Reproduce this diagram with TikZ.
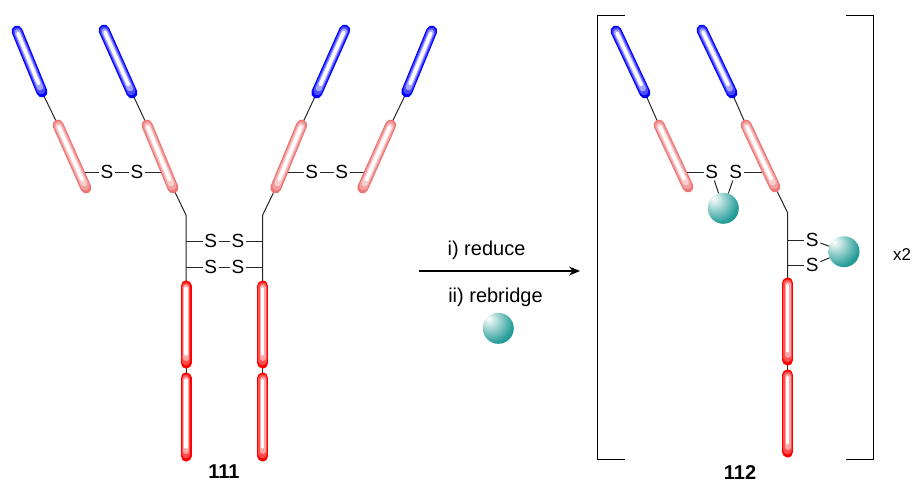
\documentclass[tikz,border=0pt]{standalone}
\usepackage{fontspec}
\setmainfont{Liberation Sans}
\usetikzlibrary{arrows.meta}

\definecolor{vdom}{RGB}{0,0,255}
\definecolor{cdom}{RGB}{236,118,118}
\definecolor{fdom}{RGB}{255,0,0}
\definecolor{beadcol}{RGB}{0,140,135}

% glossy bead, lit from the upper left
\pgfdeclareradialshading{beadshade}{\pgfpoint{-16bp}{16bp}}{%
  color(0bp)=(white); color(10bp)=(beadcol!25!white);
  color(34bp)=(beadcol!85!white); color(62bp)=(beadcol!85!black);
  color(100bp)=(beadcol!85!black)}

% one domain of a chain: a shaded rod with round ends
\newcommand{\domain}[3]{%
  \draw[line width=11, line cap=round, #1] (#2) -- (#3);
  \draw[line width=8.5, line cap=round, #1!70!white, shorten <=0.5, shorten >=2] (#2) -- (#3);
  \draw[line width=6, line cap=round, #1!35!white, shorten <=1.5, shorten >=5] (#2) -- (#3);
  \draw[line width=3.5, line cap=round, white, shorten <=2.5, shorten >=9] (#2) -- (#3);
}

\begin{document}
\begin{tikzpicture}[x=1pt, y=-1pt]

  \tikzstyle{bond} = [line width=1, black!85]
  \tikzstyle{atom} = [inner sep=1.5, font=\fontsize{19}{22}\selectfont]
  \tikzstyle{bead} = [circle, minimum size=31, inner sep=0, shading=beadshade]
  \tikzstyle{reagent} = [font=\fontsize{20}{24}\selectfont]
  \tikzstyle{cmpd} = [font=\fontsize{20}{24}\selectfont\bfseries]

  \useasboundingbox (0,0) rectangle (913,483);

  % antibody 111
  \coordinate (aV1t) at (17,31);    \coordinate (aV1b) at (42,92);
  \coordinate (aC1t) at (58,125);   \coordinate (aC1b) at (86,188);
  \coordinate (aV2t) at (104,30);   \coordinate (aV2b) at (132,93);
  \coordinate (aC2t) at (147,125);  \coordinate (aC2b) at (173,188);
  \coordinate (aV3t) at (344.7,30); \coordinate (aV3b) at (316.7,93);
  \coordinate (aC3t) at (301.7,125);\coordinate (aC3b) at (275.7,188);
  \coordinate (aV4t) at (431.7,31); \coordinate (aV4b) at (406.7,92);
  \coordinate (aC4t) at (390.7,125);\coordinate (aC4b) at (362.7,188);
  \coordinate (aH1) at (186,215);   \coordinate (aH2) at (262.7,215);
  \coordinate (aF1t) at (186,286);  \coordinate (aF1b) at (186,363);
  \coordinate (aF2t) at (186,378);  \coordinate (aF2b) at (186,456);
  \coordinate (aG1t) at (262.7,286);\coordinate (aG1b) at (262.7,363);
  \coordinate (aG2t) at (262.7,378);\coordinate (aG2b) at (262.7,456);
  \coordinate (aL1) at (79,172);    \coordinate (aL2) at (166.4,172);
  \coordinate (aL3) at (282.3,172); \coordinate (aL4) at (369.8,172);

  \node[atom] (aS1) at (107,172) {S};
  \node[atom] (aS2) at (137,172) {S};
  \node[atom] (aS3) at (311.7,172) {S};
  \node[atom] (aS4) at (341.7,172) {S};
  \node[atom] (aS5) at (210.7,241) {S};
  \node[atom] (aS6) at (238,241) {S};
  \node[atom] (aS7) at (210.7,267) {S};
  \node[atom] (aS8) at (238,267) {S};

  \draw[bond] (aV1b) -- (aC1t);
  \draw[bond] (aV2b) -- (aC2t);
  \draw[bond] (aV3b) -- (aC3t);
  \draw[bond] (aV4b) -- (aC4t);
  \draw[bond] (aC2b) -- (aH1) -- (aF1t);
  \draw[bond] (aC3b) -- (aH2) -- (aG1t);
  \draw[bond] (aF1b) -- (aF2t);
  \draw[bond] (aG1b) -- (aG2t);
  \draw[bond] (aL1) -- (aS1) -- (aS2) -- (aL2);
  \draw[bond] (aL3) -- (aS3) -- (aS4) -- (aL4);
  \draw[bond] (aH1 |- aS5) -- (aS5) -- (aS6) -- (aH2 |- aS6);
  \draw[bond] (aH1 |- aS7) -- (aS7) -- (aS8) -- (aH2 |- aS8);

  \domain{vdom}{aV1t}{aV1b}
  \domain{vdom}{aV2t}{aV2b}
  \domain{vdom}{aV3t}{aV3b}
  \domain{vdom}{aV4t}{aV4b}
  \domain{cdom}{aC1t}{aC1b}
  \domain{cdom}{aC2t}{aC2b}
  \domain{cdom}{aC3t}{aC3b}
  \domain{cdom}{aC4t}{aC4b}
  \domain{fdom}{aF1t}{aF1b}
  \domain{fdom}{aF2t}{aF2b}
  \domain{fdom}{aG1t}{aG1b}
  \domain{fdom}{aG2t}{aG2b}

  \node[cmpd] (n111) at (224,472) {111};

  % reaction arrow
  \coordinate (r0) at (419,271);
  \coordinate (r1) at (580,271);
  \draw[line width=1.4, -{Stealth[length=11, width=9]}] (r0) -- (r1);
  \node[reagent] (step1) at (486.5,250) {i) reduce};
  \node[reagent] (step2) at (495.5,297) {ii) rebridge};
  \node[bead] (bead0) at (498.3,328.3) {};

  % rebridged half antibody 112
  \coordinate (bV1t) at (616,31);   \coordinate (bV1b) at (645,93);
  \coordinate (bC1t) at (659,125);  \coordinate (bC1b) at (688,187);
  \coordinate (bV2t) at (702,30);   \coordinate (bV2b) at (732,93);
  \coordinate (bC2t) at (746,125);  \coordinate (bC2b) at (775,187);
  \coordinate (bH1) at (787.7,213);
  \coordinate (bF1t) at (787.7,283);\coordinate (bF1b) at (787.7,360);
  \coordinate (bF2t) at (787.7,375);\coordinate (bF2b) at (787.7,452);
  \coordinate (bL1) at (681,172);   \coordinate (bL2) at (768,172);

  \node[atom] (bS1) at (711.7,172) {S};
  \node[atom] (bS2) at (735.7,172) {S};
  \node[atom] (bS3) at (812.3,240) {S};
  \node[atom] (bS4) at (812.3,265) {S};
  \node[bead] (bead1) at (723.3,208.3) {};
  \node[bead] (bead2) at (844,251.7) {};

  \draw[bond] (bV1b) -- (bC1t);
  \draw[bond] (bV2b) -- (bC2t);
  \draw[bond] (bC2b) -- (bH1) -- (bF1t);
  \draw[bond] (bF1b) -- (bF2t);
  \draw[bond] (bL1) -- (bS1);
  \draw[bond] (bS2) -- (bL2);
  \draw[bond] (bH1 |- bS3) -- (bS3);
  \draw[bond] (bH1 |- bS4) -- (bS4);
  \draw[bond] (bS1) -- (bead1);
  \draw[bond] (bS2) -- (bead1);
  \draw[bond] (bS3) -- (bead2);
  \draw[bond] (bS4) -- (bead2);

  \domain{vdom}{bV1t}{bV1b}
  \domain{vdom}{bV2t}{bV2b}
  \domain{cdom}{bC1t}{bC1b}
  \domain{cdom}{bC2t}{bC2b}
  \domain{fdom}{bF1t}{bF1b}
  \domain{fdom}{bF2t}{bF2b}

  % brackets
  \draw[line width=1] (625,15.3) -| (597.3,459.3) -- (625,459.3);
  \draw[line width=1] (846,15.3) -| (873.3,459.3) -- (846,459.3);

  \node[font=\fontsize{17}{20}\selectfont] (mult) at (902,254.5) {x2};
  \node[cmpd] (n112) at (740,473) {112};

\end{tikzpicture}
\end{document}
